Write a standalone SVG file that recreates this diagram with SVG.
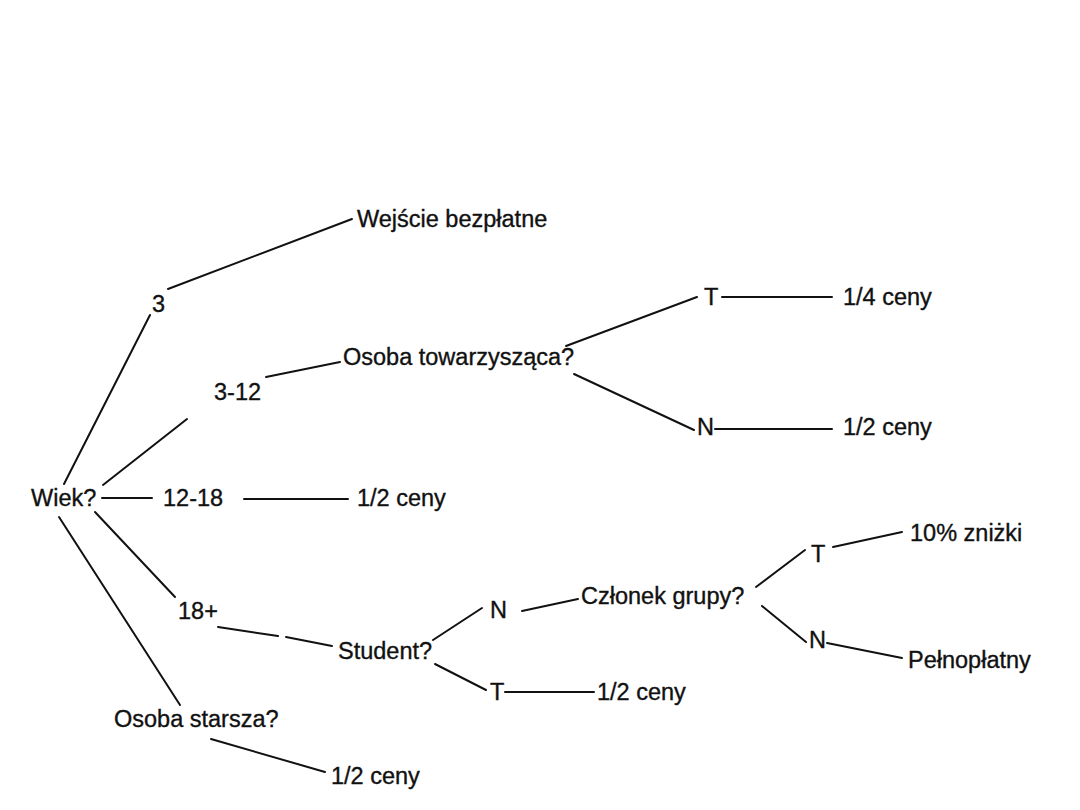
<svg xmlns="http://www.w3.org/2000/svg" width="1080" height="810" viewBox="0 0 1080 810">
<style>
.t{font-family:"Liberation Sans",Arial,sans-serif;font-size:23.5px;fill:#111;stroke:#111;stroke-width:0.35}
.c line{stroke:#111;stroke-width:2;stroke-linecap:round}
</style>
<rect width="1080" height="810" fill="#fff"/>
<g class="c" id="connectors">
<line x1="64" y1="484" x2="150" y2="315"/>
<line x1="168" y1="289" x2="352" y2="219"/>
<line x1="103" y1="485" x2="187" y2="419"/>
<line x1="266" y1="377" x2="340" y2="362"/>
<line x1="566" y1="346" x2="697" y2="297"/>
<line x1="722" y1="297" x2="832" y2="297"/>
<line x1="574" y1="374" x2="694" y2="430"/>
<line x1="715" y1="429" x2="832" y2="429"/>
<line x1="102" y1="498" x2="152" y2="498"/>
<line x1="244" y1="499" x2="348" y2="499"/>
<line x1="95" y1="512" x2="175" y2="597"/>
<line x1="218" y1="627" x2="278" y2="636"/>
<line x1="286" y1="637" x2="332" y2="646"/>
<line x1="433" y1="640" x2="482" y2="608"/>
<line x1="522" y1="611" x2="578" y2="599"/>
<line x1="756" y1="587" x2="805" y2="550"/>
<line x1="833" y1="547" x2="902" y2="532"/>
<line x1="762" y1="606" x2="806" y2="642"/>
<line x1="827" y1="643" x2="902" y2="658"/>
<line x1="435" y1="664" x2="486" y2="690"/>
<line x1="505" y1="692" x2="594" y2="692"/>
<line x1="59" y1="517" x2="180" y2="705"/>
<line x1="211" y1="739" x2="325" y2="772"/>
</g>
<g id="n-wiek"><text class="t" x="31" y="506">Wiek?</text></g>
<g id="n-3"><text class="t" x="152" y="312">3</text></g>
<g id="n-wejscie"><text class="t" x="357" y="227">Wejście bezpłatne</text></g>
<g id="n-3-12"><text class="t" x="214" y="400">3-12</text></g>
<g id="n-osoba-tow"><text class="t" x="343" y="365">Osoba towarzysząca?</text></g>
<g id="n-t1"><text class="t" x="704" y="305">T</text></g>
<g id="n-quarter"><text class="t" x="843" y="305">1/4 ceny</text></g>
<g id="n-n1"><text class="t" x="697" y="435">N</text></g>
<g id="n-half1"><text class="t" x="843" y="435">1/2 ceny</text></g>
<g id="n-12-18"><text class="t" x="163" y="506">12-18</text></g>
<g id="n-half2"><text class="t" x="357" y="506">1/2 ceny</text></g>
<g id="n-18plus"><text class="t" x="178" y="619">18+</text></g>
<g id="n-student"><text class="t" x="338" y="659">Student?</text></g>
<g id="n-n2"><text class="t" x="490" y="618">N</text></g>
<g id="n-czlonek"><text class="t" x="581" y="604">Członek grupy?</text></g>
<g id="n-t2"><text class="t" x="811" y="562">T</text></g>
<g id="n-10"><text class="t" x="910" y="541">10% zniżki</text></g>
<g id="n-n3"><text class="t" x="809" y="648">N</text></g>
<g id="n-pelno"><text class="t" x="908" y="668">Pełnopłatny</text></g>
<g id="n-t3"><text class="t" x="490" y="700">T</text></g>
<g id="n-half3"><text class="t" x="597" y="700">1/2 ceny</text></g>
<g id="n-starsza"><text class="t" x="114" y="727">Osoba starsza?</text></g>
<g id="n-half4"><text class="t" x="331" y="784">1/2 ceny</text></g>
</svg>
